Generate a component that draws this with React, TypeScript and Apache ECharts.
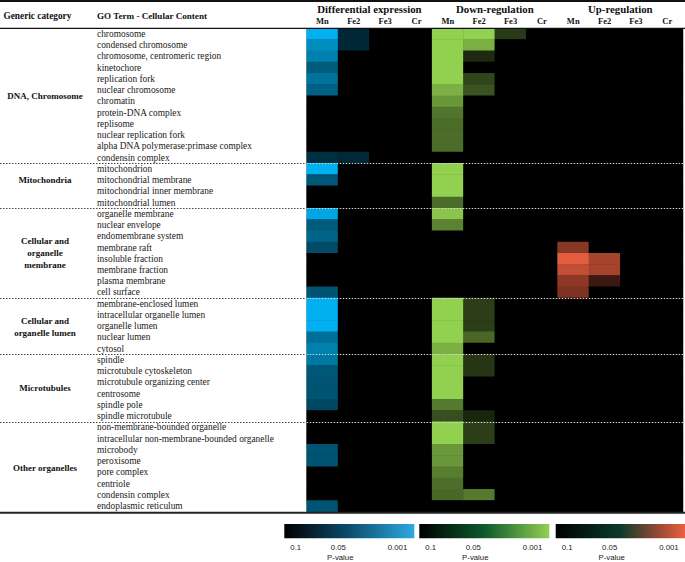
import React, { useEffect, useRef } from "react";
import * as echarts from "echarts";

const n = null;

// Column structure
const sections = ["Differential expression", "Down-regulation", "Up-regulation"];
const metals = ["Mn", "Fe2", "Fe3", "Cr"];

// Row structure
const groupNames = [
  "DNA, Chromosome",
  "Mitochondria",
  "Cellular and\norganelle\nmembrane",
  "Cellular and\norganelle lumen",
  "Microtubules",
  "Other organelles",
];
const groupSizes = [12, 4, 8, 5, 6, 8];

const goTerms = [
  "chromosome", "condensed chromosome", "chromosome, centromeric region", "kinetochore",
  "replication fork", "nuclear chromosome", "chromatin", "protein-DNA complex", "replisome",
  "nuclear replication fork", "alpha DNA polymerase:primase complex", "condensin complex",
  "mitochondrion", "mitochondrial membrane", "mitochondrial inner membrane", "mitochondrial lumen",
  "organelle membrane", "nuclear envelope", "endomembrane system", "membrane raft",
  "insoluble fraction", "membrane fraction", "plasma membrane", "cell surface",
  "membrane-enclosed lumen", "intracellular organelle lumen", "organelle lumen", "nuclear lumen", "cytosol",
  "spindle", "microtubule cytoskeleton", "microtubule organizing center", "centrosome", "spindle pole", "spindle microtubule",
  "non-membrane-bounded organelle", "intracellular non-membrane-bounded organelle", "microbody", "peroxisome",
  "pore complex", "centriole", "condensin complex", "endoplasmic reticulum",
];

// P-values per column (null = not significant, p >= 0.1)
const deMn = [
  0.001, 0.02, 0.028, 0.048, 0.035, 0.045, n, n, n, n, n, 0.072,
  0.001, 0.05, n, n,
  0.006, 0.048, 0.043, 0.057, n, n, n, 0.052,
  0.001, 0.001, 0.001, 0.037, 0.028,
  0.032, 0.05, 0.052, 0.052, 0.059, n,
  n, n, 0.052, 0.052, n, n, n, 0.052,
];
const deFe2 = [
  0.078, 0.078, n, n, n, n, n, n, n, n, n, 0.077,
  n, n, n, n,
  n, n, n, n, n, n, n, n,
  n, n, n, n, n,
  n, n, n, n, n, n,
  n, n, n, n, n, n, n, n,
];
const deFe3 = [
  n, n, n, n, n, n, n, n, n, n, n, n,
  n, n, n, n,
  n, n, n, n, n, n, n, n,
  n, n, n, n, n,
  n, n, n, n, n, n,
  n, n, n, n, n, n, n, n,
];
const deCr = [
  n, n, n, n, n, n, n, n, n, n, n, n,
  n, n, n, n,
  n, n, n, n, n, n, n, n,
  n, n, n, n, n,
  n, n, n, n, n, n,
  n, n, n, n, n, n, n, n,
];
const downMn = [
  0.001, 0.001, 0.001, 0.001, 0.001, 0.016, 0.028, 0.044, 0.048, 0.048, 0.048, n,
  0.001, 0.001, 0.001, 0.048,
  0.006, 0.038, n, n, n, n, n, n,
  0.001, 0.001, 0.001, 0.001, 0.016,
  0.001, 0.001, 0.001, 0.001, 0.042, 0.062,
  0.001, 0.001, 0.028, 0.028, 0.04, 0.047, 0.05, n,
];
const downFe2 = [
  0.001, 0.016, 0.08, n, 0.067, 0.06, n, n, n, n, n, n,
  n, n, n, n,
  n, n, n, n, n, n, n, n,
  0.07, 0.07, 0.07, 0.05, n,
  0.074, 0.074, n, n, n, 0.082,
  0.07, 0.07, n, n, n, n, 0.042, n,
];
const downFe3 = [
  0.072, n, n, n, n, n, n, n, n, n, n, n,
  n, n, n, n,
  n, n, n, n, n, n, n, n,
  n, n, n, n, n,
  n, n, n, n, n, n,
  n, n, n, n, n, n, n, n,
];
const downCr = [
  n, n, n, n, n, n, n, n, n, n, n, n,
  n, n, n, n,
  n, n, n, n, n, n, n, n,
  n, n, n, n, n,
  n, n, n, n, n, n,
  n, n, n, n, n, n, n, n,
];
const upMn = [
  n, n, n, n, n, n, n, n, n, n, n, n,
  n, n, n, n,
  n, n, n, 0.04, 0.001, 0.016, 0.038, 0.045,
  n, n, n, n, n,
  n, n, n, n, n, n,
  n, n, n, n, n, n, n, n,
];
const upFe2 = [
  n, n, n, n, n, n, n, n, n, n, n, n,
  n, n, n, n,
  n, n, n, n, 0.028, 0.028, 0.074, n,
  n, n, n, n, n,
  n, n, n, n, n, n,
  n, n, n, n, n, n, n, n,
];
const upFe3 = [
  n, n, n, n, n, n, n, n, n, n, n, n,
  n, n, n, n,
  n, n, n, n, n, n, n, n,
  n, n, n, n, n,
  n, n, n, n, n, n,
  n, n, n, n, n, n, n, n,
];
const upCr = [
  n, n, n, n, n, n, n, n, n, n, n, n,
  n, n, n, n,
  n, n, n, n, n, n, n, n,
  n, n, n, n, n,
  n, n, n, n, n, n,
  n, n, n, n, n, n, n, n,
];

const legendTicks = ["0.1", "0.05", "0.001"];

const sectionColumns = [
  [deMn, deFe2, deFe3, deCr],
  [downMn, downFe2, downFe3, downCr],
  [upMn, upFe2, upFe3, upCr],
];
const sectionMaxColors = ["#00b0f0", "#92d050", "#e45c3e"];
const legendStops = [
  [[0, "#000000"], [0.5, "#0c4d6d"], [1, "#2ca9e2"]],
  [[0, "#000000"], [0.5, "#0c5a2c"], [1, "#93cf52"]],
  [[0, "#000000"], [0.5, "#0b3a2a"], [0.8, "#9a4a36"], [1, "#ea5f3f"]],
];

// position on the legend scale: 0.1 -> 0, 0.05 -> 0.5, 0.001 -> 1
const scalePos = (p: number | null) =>
  p == null || p >= 0.1 ? 0 : p >= 0.05 ? (0.1 - p) / 0.1 : 0.5 + (0.5 * (0.05 - p)) / 0.049;

const W = 685;
const H = 562;
const GRID_LEFT = 306.7;
const GRID_TOP = 28.3;
const GRID_RIGHT = 2;
const GRID_BOTTOM = 50.3;

export default function App() {
  const ref = useRef<HTMLDivElement>(null);
  useEffect(() => {
    if (!ref.current) return;
    const chart = echarts.init(ref.current, undefined, { renderer: "svg" });
    const nRows = goTerms.length;
    const gridH = H - GRID_TOP - GRID_BOTTOM;
    const gridW = W - GRID_LEFT - GRID_RIGHT;
    const rowH = gridH / nRows;
    const rowY = (b: number) => GRID_TOP + b * rowH;
    const colW = gridW / 12;

    const xLabels: string[] = [];
    sections.forEach(() => metals.forEach((m) => xLabels.push(m)));

    const series: any[] = [];
    const visualMaps: any[] = [];
    sectionColumns.forEach((cols, s) => {
      const data: any[] = [];
      cols.forEach((arr, m) => {
        arr.forEach((p, r) => data.push([s * 4 + m, r, scalePos(p)]));
      });
      series.push({
        type: "heatmap",
        data,
        itemStyle: { borderWidth: 0 },
        emphasis: { disabled: true },
        z: 2,
      });
      visualMaps.push({
        type: "continuous",
        show: false,
        min: 0,
        max: 1,
        dimension: 2,
        seriesIndex: s,
        inRange: { color: ["#000000", sectionMaxColors[s]] },
      });
    });

    const graphics: any[] = [];
    const serif = "'Liberation Serif', serif";
    const sans = "'Liberation Sans', Arial, sans-serif";
    // horizontal rules
    graphics.push({ type: "line", z: 100, shape: { x1: 0, y1: 1, x2: W, y2: 1 }, style: { stroke: "#111", lineWidth: 2 } });
    graphics.push({ type: "line", z: 100, shape: { x1: 0, y1: GRID_TOP, x2: W, y2: GRID_TOP }, style: { stroke: "#111", lineWidth: 1.3 } });
    graphics.push({ type: "line", z: 100, shape: { x1: 0, y1: GRID_TOP + gridH + 1, x2: W, y2: GRID_TOP + gridH + 1 }, style: { stroke: "#222", lineWidth: 2 } });

    // headers
    graphics.push({ type: "text", z: 100, style: { text: "Generic category", x: 3.5, y: 15.5, fill: "#111", font: `bold 9.3px ${serif}`, textVerticalAlign: "middle" } });
    graphics.push({ type: "text", z: 100, style: { text: "GO Term - Cellular Content", x: 97, y: 15.5, fill: "#111", font: `bold 9.1px ${serif}`, textVerticalAlign: "middle" } });
    sections.forEach((name, s) => {
      graphics.push({
        type: "text", z: 100,
        style: { text: name, x: GRID_LEFT + colW * (s * 4 + 2), y: 8.5, fill: "#111", font: `bold 10.8px ${serif}`, textAlign: "center", textVerticalAlign: "middle" },
      });
    });

    // group labels and separators
    let start = 0;
    const anchorOffsets = [0, -0.5, 0, 0.1, 0, 0.1];
    groupNames.forEach((name, g) => {
      const size = groupSizes[g];
      graphics.push({
        type: "text", z: 100,
        style: { text: name, x: 45, y: rowY(start + size / 2 + anchorOffsets[g]), fill: "#111", font: `bold 9px ${serif}`, lineHeight: 12.3, textAlign: "center", textVerticalAlign: "middle" },
      });
      start += size;
      if (g < groupNames.length - 1) {
        const y = Math.round(rowY(start)) + 0.5;
        graphics.push({ type: "line", z: 100, shape: { x1: 0, y1: y, x2: GRID_LEFT, y2: y }, style: { stroke: "#444", lineWidth: 1, lineDash: [1.5, 1.5] } });
        graphics.push({ type: "line", z: 100, shape: { x1: GRID_LEFT, y1: y, x2: W - GRID_RIGHT, y2: y }, style: { stroke: "#d8d8d8", lineWidth: 1, lineDash: [1.5, 1.5] } });
      }
    });

    // legends
    const legendX = [284.3, 419.3, 555.7];
    const legendWidth = [130, 130, 129.3];
    const tickOffsets = [6, 54, 123];
    legendX.forEach((lx, s) => {
      graphics.push({
        type: "rect", z: 100,
        shape: { x: lx, y: 524, width: legendWidth[s], height: 14.3 },
        style: { fill: new echarts.graphic.LinearGradient(0, 0, 1, 0, legendStops[s].map(([o, c]) => ({ offset: o as number, color: c as string }))) },
      });
      legendTicks.forEach((t, i) => {
        graphics.push({
          type: "text", z: 100,
          style: { text: t, x: lx + tickOffsets[i], y: 547.5, fill: "#222", font: `7.8px ${sans}`, textAlign: i === 0 ? "left" : i === 1 ? "center" : "right", textVerticalAlign: "middle" },
        });
      });
      graphics.push({
        type: "text", z: 100,
        style: { text: "P-value", x: lx + 56, y: 557.5, fill: "#222", font: `7.8px ${sans}`, textAlign: "center", textVerticalAlign: "middle" },
      });
    });

    chart.setOption({
      animation: false,
      backgroundColor: "#ffffff",
      grid: { left: GRID_LEFT, top: GRID_TOP, right: GRID_RIGHT, bottom: GRID_BOTTOM, show: true, backgroundColor: "#000000", borderWidth: 0 },
      xAxis: {
        type: "category",
        position: "top",
        data: xLabels,
        axisLine: { show: false },
        axisTick: { show: false },
        splitLine: { show: false },
        axisLabel: { margin: 2.5, fontSize: 8.5, fontWeight: "bold", fontFamily: serif, color: "#111", interval: 0 },
      },
      yAxis: {
        type: "category",
        inverse: true,
        data: goTerms,
        axisLine: { show: false },
        axisTick: { show: false },
        splitLine: { show: false },
        axisLabel: { align: "left", margin: GRID_LEFT - 97, fontSize: 9.4, fontFamily: serif, color: "#1a1a1a", interval: 0 },
      },
      visualMap: visualMaps,
      series,
      graphic: graphics,
    });
    return () => chart.dispose();
  }, []);
  return <div ref={ref} style={{ position: "fixed", left: 0, top: 0, width: W, height: H }} />;
}
